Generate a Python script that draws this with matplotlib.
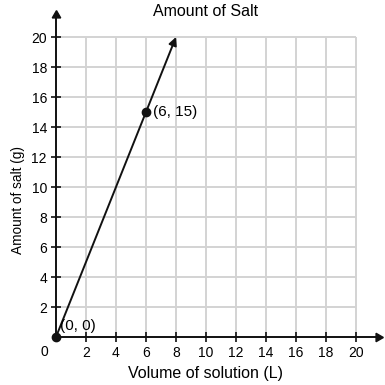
import matplotlib.pyplot as plt
import numpy as np

plt.rcParams['font.family'] = ['Liberation Sans', 'DejaVu Sans']

# data
line_x = [0, 8]
line_y = [0, 20]
pt_x = [0, 6]
pt_y = [0, 15]
pt_labels = ['(0, 0)', '(6, 15)']
x_ticks = [2, 4, 6, 8, 10, 12, 14, 16, 18, 20]
y_ticks = [2, 4, 6, 8, 10, 12, 14, 16, 18, 20]

fig = plt.figure(figsize=(3.85, 3.85), dpi=100)
ax = fig.add_axes([56 / 385, 48 / 385, 322 / 385, 322 / 385])
ax.set_xlim(0, 21.47)
ax.set_ylim(0, 21.47)

# grid only inside 0..20
ax.vlines(x_ticks, 0, 20, color='#d3d3d3', lw=1.4, zorder=0)
ax.hlines(y_ticks, 0, 20, color='#d3d3d3', lw=1.4, zorder=0)

for s in ['top', 'right']:
    ax.spines[s].set_visible(False)
for s in ['left', 'bottom']:
    ax.spines[s].set_linewidth(1.4)
    ax.spines[s].set_color('#111111')

# axis arrows
ax.plot(1, 0, marker=(3, 0, -90), color='#111111', ms=7, transform=ax.get_yaxis_transform(), clip_on=False)
ax.plot(0, 1, marker=(3, 0, 0), color='#111111', ms=7, transform=ax.get_xaxis_transform(), clip_on=False)

ax.set_xticks(x_ticks)
ax.set_yticks(y_ticks)
ax.tick_params(direction='inout', length=7, width=1.2, color='#111111', labelsize=10, pad=3)
ax.text(-0.75, -1.0, '0', ha='center', va='center', fontsize=10)

# line with arrow
ax.annotate('', xy=(line_x[1], line_y[1]), xytext=(line_x[0], line_y[0]),
            arrowprops=dict(arrowstyle='-|>', color='#111111', lw=1.4,
                            mutation_scale=12, shrinkA=0, shrinkB=0))
ax.plot(pt_x, pt_y, 'o', color='#111111', ms=6, clip_on=False, zorder=5)
ax.text(pt_x[0] + 0.3, pt_y[0] + 0.3, pt_labels[0], fontsize=11, ha='left', va='bottom')
ax.text(pt_x[1] + 0.45, pt_y[1], pt_labels[1], fontsize=11, ha='left', va='center')

ax.set_xlabel('Volume of solution (L)', fontsize=11.5)
ax.set_ylabel('Amount of salt (g)', fontsize=9.8)
ax.xaxis.set_label_coords(150 / 322, -0.112)
ax.yaxis.set_label_coords(-0.118, 137 / 322)
ax.xaxis.label.set_va('center')
ax.yaxis.label.set_va('center')
fig.text(206 / 385, 1 - 12 / 385, 'Amount of Salt', ha='center', va='center', fontsize=11.5)

fig.savefig('out.png', dpi=100)
